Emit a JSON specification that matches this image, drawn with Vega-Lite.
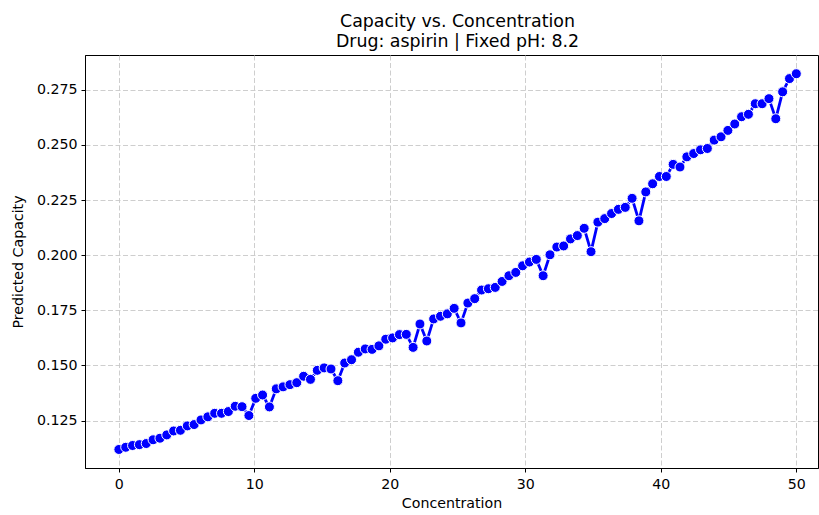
{
  "$schema": "https://vega.github.io/schema/vega-lite/v6.json",
  "width": 733,
  "height": 413,
  "autosize": {"type": "none"},
  "padding": {"left": 85, "top": 55, "right": 1, "bottom": 47},
  "background": "white",
  "title": {
    "text": ["Capacity vs. Concentration", "Drug: aspirin | Fixed pH: 8.2"],
    "font": "DejaVu Sans",
    "fontSize": 17.4,
    "fontWeight": "normal",
    "color": "black",
    "lineHeight": 19.5,
    "offset": 5,
    "dx": 6
  },
  "config": {
    "view": {"stroke": "black", "strokeWidth": 1},
    "axis": {
      "labelFont": "DejaVu Sans",
      "titleFont": "DejaVu Sans",
      "labelFontSize": 14.2,
      "titleFontSize": 14.2,
      "titleFontWeight": "normal",
      "labelColor": "black",
      "titleColor": "black",
      "domainColor": "black",
      "tickColor": "black",
      "tickSize": 4,
      "labelPadding": 4,
      "grid": true,
      "gridColor": "#c8c8c8",
      "gridDash": [5, 2.5],
      "gridWidth": 0.9
    }
  },
  "data": {
    "values": [
      {"x": 0, "y": 0.1119}, {"x": 0.505, "y": 0.1129}, {"x": 1.010, "y": 0.1137}, {"x": 1.515, "y": 0.1141},
      {"x": 2.020, "y": 0.1146}, {"x": 2.525, "y": 0.1163}, {"x": 3.030, "y": 0.1170}, {"x": 3.535, "y": 0.1185},
      {"x": 4.040, "y": 0.1203}, {"x": 4.545, "y": 0.1206}, {"x": 5.051, "y": 0.1226}, {"x": 5.556, "y": 0.1232},
      {"x": 6.061, "y": 0.1253}, {"x": 6.566, "y": 0.1267}, {"x": 7.071, "y": 0.1283}, {"x": 7.576, "y": 0.1283},
      {"x": 8.081, "y": 0.1291}, {"x": 8.586, "y": 0.1315}, {"x": 9.091, "y": 0.1313}, {"x": 9.596, "y": 0.1273},
      {"x": 10.101, "y": 0.1351}, {"x": 10.606, "y": 0.1366}, {"x": 11.111, "y": 0.1312}, {"x": 11.616, "y": 0.1394},
      {"x": 12.121, "y": 0.1403}, {"x": 12.626, "y": 0.1413}, {"x": 13.131, "y": 0.1422}, {"x": 13.636, "y": 0.1451},
      {"x": 14.141, "y": 0.1437}, {"x": 14.646, "y": 0.1478}, {"x": 15.152, "y": 0.1489}, {"x": 15.657, "y": 0.1484},
      {"x": 16.162, "y": 0.1431}, {"x": 16.667, "y": 0.1511}, {"x": 17.172, "y": 0.1526}, {"x": 17.677, "y": 0.1560},
      {"x": 18.182, "y": 0.1575}, {"x": 18.687, "y": 0.1573}, {"x": 19.192, "y": 0.1589}, {"x": 19.697, "y": 0.1619},
      {"x": 20.202, "y": 0.1625}, {"x": 20.707, "y": 0.1640}, {"x": 21.212, "y": 0.1641}, {"x": 21.717, "y": 0.1582},
      {"x": 22.222, "y": 0.1688}, {"x": 22.727, "y": 0.1611}, {"x": 23.232, "y": 0.1711}, {"x": 23.737, "y": 0.1723},
      {"x": 24.242, "y": 0.1734}, {"x": 24.747, "y": 0.1759}, {"x": 25.253, "y": 0.1693}, {"x": 25.758, "y": 0.1783},
      {"x": 26.263, "y": 0.1803}, {"x": 26.768, "y": 0.1842}, {"x": 27.273, "y": 0.1848}, {"x": 27.778, "y": 0.1854},
      {"x": 28.283, "y": 0.1881}, {"x": 28.788, "y": 0.1907}, {"x": 29.293, "y": 0.1922}, {"x": 29.798, "y": 0.1952},
      {"x": 30.303, "y": 0.1969}, {"x": 30.808, "y": 0.1981}, {"x": 31.313, "y": 0.1907}, {"x": 31.818, "y": 0.2002},
      {"x": 32.323, "y": 0.2037}, {"x": 32.828, "y": 0.2042}, {"x": 33.333, "y": 0.2074}, {"x": 33.838, "y": 0.2089},
      {"x": 34.343, "y": 0.2122}, {"x": 34.848, "y": 0.2016}, {"x": 35.354, "y": 0.2150}, {"x": 35.859, "y": 0.2166},
      {"x": 36.364, "y": 0.2189}, {"x": 36.869, "y": 0.2208}, {"x": 37.374, "y": 0.2217}, {"x": 37.879, "y": 0.2258},
      {"x": 38.384, "y": 0.2156}, {"x": 38.889, "y": 0.2287}, {"x": 39.394, "y": 0.2324}, {"x": 39.899, "y": 0.2357},
      {"x": 40.404, "y": 0.2357}, {"x": 40.909, "y": 0.2412}, {"x": 41.414, "y": 0.2400}, {"x": 41.919, "y": 0.2446},
      {"x": 42.424, "y": 0.2461}, {"x": 42.929, "y": 0.2478}, {"x": 43.434, "y": 0.2484}, {"x": 43.939, "y": 0.2522},
      {"x": 44.444, "y": 0.2537}, {"x": 44.949, "y": 0.2566}, {"x": 45.455, "y": 0.2595}, {"x": 45.960, "y": 0.2628},
      {"x": 46.465, "y": 0.2639}, {"x": 46.970, "y": 0.2687}, {"x": 47.475, "y": 0.2687}, {"x": 47.980, "y": 0.2710},
      {"x": 48.485, "y": 0.2619}, {"x": 48.990, "y": 0.2741}, {"x": 49.495, "y": 0.2801}, {"x": 50, "y": 0.2823}
    ]
  },
  "encoding": {
    "x": {
      "field": "x",
      "type": "quantitative",
      "scale": {"domain": [-2.5, 51.6], "nice": false, "zero": false},
      "axis": {"title": "Concentration", "values": [0, 10, 20, 30, 40, 50], "format": "d", "labelPadding": 5, "titlePadding": 5}
    },
    "y": {
      "field": "y",
      "type": "quantitative",
      "scale": {"domain": [0.1035, 0.2908], "nice": false, "zero": false},
      "axis": {"title": "Predicted Capacity", "values": [0.125, 0.15, 0.175, 0.2, 0.225, 0.25, 0.275], "format": ".3f", "titlePadding": 11}
    }
  },
  "layer": [
    {"mark": {"type": "line", "color": "#0000ff", "strokeWidth": 2.8}},
    {"mark": {"type": "point", "shape": "circle", "filled": true, "fill": "#0000ff", "stroke": "white", "strokeWidth": 1, "size": 100, "opacity": 1}}
  ]
}
